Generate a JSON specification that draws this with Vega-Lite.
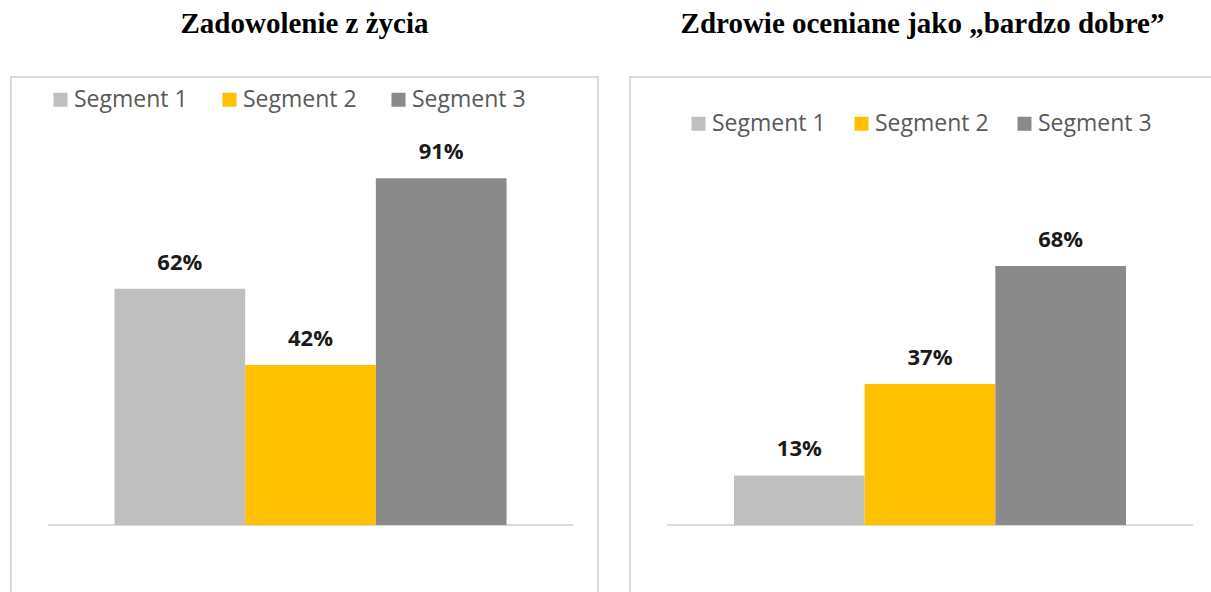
{
  "$schema": "https://vega.github.io/schema/vega-lite/v6.json",
  "padding": {"left": 10, "top": 9, "right": 0, "bottom": 0},
  "background": "white",
  "spacing": 30,
  "config": {
    "view": {"stroke": "#D9D9D9", "strokeWidth": 2},
    "title": {"font": "Liberation Serif", "fontSize": 29, "fontWeight": "bold", "color": "#000000", "anchor": "middle", "baseline": "alphabetic", "offset": 38},
    "legend": {"labelFont": "Open Sans", "labelFontSize": 23, "labelColor": "#595959", "symbolType": "square", "symbolSize": 196, "symbolStrokeWidth": 0, "labelOffset": 2, "padding": 0, "orient": "none", "direction": "horizontal", "title": null}
  },
  "resolve": {"legend": {"color": "independent"}},
  "hconcat": [
    {
      "title": "Zadowolenie z życia",
      "width": 587,
      "height": 517,
      "data": {"values": [
        {"cat": "A", "series": "Segment 1", "value": 0.62},
        {"cat": "A", "series": "Segment 2", "value": 0.42},
        {"cat": "A", "series": "Segment 3", "value": 0.91}
      ]},
      "encoding": {
        "x": {"field": "cat", "type": "nominal", "axis": null, "scale": {"paddingInner": 0, "paddingOuter": 0.059, "align": 0.597}}
      },
      "layer": [
        {
          "mark": {"type": "bar", "stroke": "#D9D9D9", "strokeWidth": 2, "fill": null},
          "encoding": {
            "y": {"datum": 0, "type": "quantitative", "axis": null, "scale": {"domain": [-0.1811, 1.1759], "nice": false, "zero": false}},
            "y2": {"datum": 0}
          }
        },
        {
          "mark": {"type": "bar"},
          "encoding": {
            "xOffset": {"field": "series", "type": "nominal", "scale": {"paddingInner": 0, "paddingOuter": 0.509}},
            "y": {"field": "value", "type": "quantitative", "axis": null, "scale": {"domain": [-0.1811, 1.1759], "nice": false, "zero": false}},
            "y2": {"datum": 0},
            "color": {"field": "series", "type": "nominal", "scale": {"domain": ["Segment 1", "Segment 2", "Segment 3"], "range": ["#BFBFBF", "#FFC000", "#8A8A8A"]}, "legend": {"legendX": 38, "legendY": 11, "columnPadding": 30}}
          }
        },
        {
          "mark": {"type": "text", "font": "Open Sans", "fontSize": 22, "fontWeight": "bold", "color": "#1A1A1A", "baseline": "alphabetic", "align": "center", "dy": -19},
          "encoding": {
            "xOffset": {"field": "series", "type": "nominal", "scale": {"paddingInner": 0, "paddingOuter": 0.509}},
            "y": {"field": "value", "type": "quantitative", "axis": null, "scale": {"domain": [-0.1811, 1.1759], "nice": false, "zero": false}},
            "text": {"field": "value", "type": "quantitative", "format": ".0%"}
          }
        }
      ]
    },
    {
      "title": "Zdrowie oceniane jako „bardzo dobre”",
      "width": 585,
      "height": 517,
      "data": {"values": [
        {"cat": "A", "series": "Segment 1", "value": 0.13},
        {"cat": "A", "series": "Segment 2", "value": 0.37},
        {"cat": "A", "series": "Segment 3", "value": 0.68}
      ]},
      "encoding": {
        "x": {"field": "cat", "type": "nominal", "axis": null, "scale": {"paddingInner": 0, "paddingOuter": 0.0571, "align": 0.625}}
      },
      "layer": [
        {
          "mark": {"type": "bar", "stroke": "#D9D9D9", "strokeWidth": 2, "fill": null},
          "encoding": {
            "y": {"datum": 0, "type": "quantitative", "axis": null, "scale": {"domain": [-0.1811, 1.1759], "nice": false, "zero": false}},
            "y2": {"datum": 0}
          }
        },
        {
          "mark": {"type": "bar"},
          "encoding": {
            "xOffset": {"field": "series", "type": "nominal", "scale": {"paddingInner": 0, "paddingOuter": 0.509}},
            "y": {"field": "value", "type": "quantitative", "axis": null, "scale": {"domain": [-0.1811, 1.1759], "nice": false, "zero": false}},
            "y2": {"datum": 0},
            "color": {"field": "series", "type": "nominal", "scale": {"domain": ["Segment 1", "Segment 2", "Segment 3"], "range": ["#BFBFBF", "#FFC000", "#8A8A8A"]}, "legend": {"legendX": 57, "legendY": 35, "columnPadding": 24}}
          }
        },
        {
          "mark": {"type": "text", "font": "Open Sans", "fontSize": 22, "fontWeight": "bold", "color": "#1A1A1A", "baseline": "alphabetic", "align": "center", "dy": -19},
          "encoding": {
            "xOffset": {"field": "series", "type": "nominal", "scale": {"paddingInner": 0, "paddingOuter": 0.509}},
            "y": {"field": "value", "type": "quantitative", "axis": null, "scale": {"domain": [-0.1811, 1.1759], "nice": false, "zero": false}},
            "text": {"field": "value", "type": "quantitative", "format": ".0%"}
          }
        }
      ]
    }
  ]
}
